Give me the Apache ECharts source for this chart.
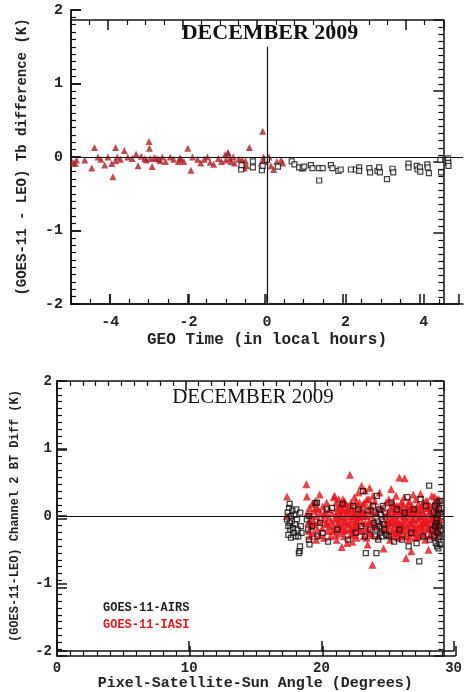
<!DOCTYPE html>
<html>
<head>
<meta charset="utf-8">
<script src="https://cdn.jsdelivr.net/npm/echarts@6/dist/echarts.min.js"></script>
<style>
  html, body { margin: 0; padding: 0; background: #fff; }
  #chart { width: 465px; height: 692px; }
</style>
</head>
<body>
<div id="chart"></div>
<script>
// top panel: GEO local time vs Tb difference
const topIasi = [
  [-4.95,-0.07],[-4.89,-0.09],[-4.86,-0.04],[-4.65,-0.04],[-4.47,-0.15],[-4.40,0.13],[-4.31,0.0],[-4.24,-0.03],
  [-4.14,-0.11],[-4.06,0.0],[-3.96,-0.09],[-3.93,-0.27],[-3.86,0.13],[-3.86,-0.05],[-3.82,0.0],[-3.74,-0.03],
  [-3.64,0.09],[-3.55,0.0],[-3.44,-0.02],[-3.34,0.04],[-3.29,-0.12],[-3.21,0.01],[-3.12,-0.02],[-3.08,-0.04],
  [-3.01,0.21],[-3.0,0.12],[-2.98,-0.02],[-2.93,-0.13],[-2.88,-0.01],[-2.83,-0.02],[-2.76,-0.03],[-2.72,-0.05],
  [-2.67,0.0],[-2.59,-0.06],[-2.47,0.0],[-2.38,-0.03],[-2.26,-0.06],[-2.22,-0.01],[-2.19,-0.03],[-2.12,-0.06],
  [-2.02,0.12],[-1.94,-0.18],[-1.90,0.0],[-1.77,-0.03],[-1.69,-0.08],[-1.60,-0.03],[-1.52,0.0],[-1.45,-0.07],
  [-1.36,-0.10],[-1.24,-0.02],[-1.16,-0.06],[-1.07,0.03],[-1.05,-0.04],[-1.00,0.06],[-0.99,0.05],[-0.95,-0.02],
  [-0.92,-0.06],[-0.86,0.0],[-0.83,-0.08],[-0.72,-0.03],[-0.64,-0.03],[-0.62,-0.08],[-0.58,-0.15],[-0.55,-0.05],
  [-0.52,-0.12],[-0.45,0.13],[-0.15,-0.08],[-0.11,0.35],[-0.09,0.0],[-0.07,-0.03],[-0.04,-0.06],[0.05,0.0],
  [0.10,-0.12],[0.17,-0.17],[0.25,-0.06],[0.36,-0.04],[0.40,-0.08],[0.90,-0.15]
];
const topAirs = [
  [-0.66,-0.17],[-0.65,-0.11],[-0.36,-0.06],[-0.36,-0.14],[-0.13,-0.18],[-0.11,-0.12],[0.0,-0.04],[0.28,-0.13],
  [0.63,-0.06],[0.70,-0.10],[0.82,-0.14],[0.91,-0.15],[0.95,-0.13],[1.12,-0.11],[1.16,-0.15],[1.33,-0.15],
  [1.33,-0.32],[1.42,-0.15],[1.63,-0.11],[1.67,-0.15],[1.82,-0.19],[1.88,-0.17],[2.14,-0.17],[2.27,-0.17],
  [2.35,-0.14],[2.35,-0.19],[2.61,-0.15],[2.63,-0.21],[2.82,-0.19],[2.86,-0.14],[2.88,-0.21],[3.06,-0.30],
  [3.20,-0.16],[3.22,-0.21],[3.61,-0.09],[3.61,-0.14],[3.82,-0.12],[3.84,-0.17],[3.90,-0.14],[3.91,-0.20],
  [4.09,-0.10],[4.10,-0.14],[4.13,-0.22],[4.42,-0.04],[4.44,-0.21],[4.62,-0.02],[4.62,-0.08],[4.63,-0.12]
];

// bottom panel: pixel-satellite-sun angle vs channel 2 BT diff
const botIasi = [
  [17.4,0.29],[17.4,0.0],
  [18.87,0.47],[18.9,0.29],[18.95,0.05],[19.0,-0.1],[19.05,-0.22],[19.1,0.12],[19.12,-0.08],[19.15,-0.3],[19.2,0.02],
  [19.25,-0.15],[19.3,0.18],[19.35,-0.05],[19.4,-0.25],[19.45,0.08],[19.5,-0.12],[19.55,0.22],[19.6,-0.35],[19.62,0.12],
  [19.65,0.0],[19.7,-0.2],[19.75,0.1],[19.8,-0.08],[19.87,0.32],[19.9,-0.28],[19.95,0.04],
  [20.05,-0.18],[20.1,0.14],[20.15,-0.05],[20.2,-0.32],[20.22,0.02],[20.3,0.06],[20.35,-0.12],[20.4,0.2],[20.42,-0.1],
  [20.5,-0.22],[20.55,-0.02],[20.6,0.1],[20.62,-0.15],[20.7,-0.3],[20.75,-0.08],[20.8,0.05],[20.82,-0.22],[20.9,-0.15],[20.95,0.28],
  [21.0,0.3],[21.02,-0.05],[21.05,-0.2],[21.1,0.02],[21.12,0.2],[21.15,-0.35],[21.2,0.12],[21.25,-0.1],[21.3,0.25],[21.32,-0.12],
  [21.35,-0.25],[21.4,0.05],[21.42,0.15],[21.45,-0.05],[21.5,0.18],[21.52,0.0],[21.54,-0.46],[21.6,-0.15],[21.62,0.25],[21.65,0.08],
  [21.7,-0.3],[21.72,-0.08],[21.75,0.22],[21.8,-0.02],[21.85,-0.2],[21.9,0.1],[21.92,0.05],[21.95,-0.4],
  [21.08,-0.28],[21.22,-0.02],[21.38,-0.18],[21.58,0.1],[21.68,-0.22],[21.82,0.18],[21.88,-0.1],[21.28,0.08],
  [22.0,0.15],[22.05,-0.12],[22.1,0.0],[22.12,-0.2],[22.16,0.61],[22.2,-0.28],[22.25,0.2],[22.3,-0.05],[22.32,0.12],[22.35,-0.38],
  [22.4,0.08],[22.42,-0.25],[22.45,-0.18],[22.5,0.28],[22.52,-0.15],[22.55,-0.08],[22.6,0.02],[22.62,0.22],[22.65,-0.32],[22.7,0.14],
  [22.72,-0.05],[22.75,-0.15],[22.8,0.35],[22.85,-0.02],[22.9,-0.22],[22.92,0.02],[22.95,0.1],
  [22.08,0.08],[22.18,-0.1],[22.28,-0.2],[22.38,0.0],[22.48,0.05],[22.58,-0.28],[22.68,-0.12],[22.78,0.05],[22.88,0.2],
  [23.04,0.45],[23.1,-0.1],[23.12,0.08],[23.15,0.18],[23.2,-0.3],[23.25,0.05],[23.3,0.38],[23.32,-0.1],[23.35,-0.18],[23.4,0.0],
  [23.45,0.25],[23.5,-0.42],[23.52,-0.2],[23.55,0.1],[23.6,-0.08],[23.65,0.42],[23.7,-0.25],[23.72,0.02],[23.75,0.15],[23.86,-0.72],
  [23.9,0.3],[23.92,-0.15],[23.95,-0.05],
  [23.08,-0.22],[23.18,0.0],[23.28,0.2],[23.42,-0.32],[23.58,0.25],[23.68,-0.1],[23.82,0.08],[23.85,-0.28],
  [24.05,0.22],[24.1,-0.15],[24.2,0.05],[24.3,-0.3],[24.32,0.1],[24.4,0.35],[24.5,-0.1],[24.6,0.12],[24.62,-0.2],[24.7,-0.48],
  [24.8,0.0],[24.82,-0.2],[24.9,0.2],[24.92,-0.1],
  [25.0,-0.2],[25.02,-0.05],[25.05,0.05],[25.1,0.25],[25.12,-0.15],[25.15,-0.1],[25.2,-0.35],[25.22,0.12],[25.28,0.4],[25.3,0.1],
  [25.32,-0.08],[25.35,-0.22],[25.4,-0.02],[25.42,-0.2],[25.45,0.18],[25.5,-0.3],[25.52,0.0],[25.55,0.08],[25.6,-0.12],[25.62,0.05],
  [25.65,0.3],[25.7,-0.05],[25.72,-0.18],[25.75,-0.25],[25.8,0.15],[25.82,-0.08],[25.85,-0.15],[25.9,0.57],[25.92,-0.22],[25.95,0.02],
  [25.08,-0.28],[25.18,0.02],[25.38,0.2],[25.48,-0.1],[25.58,-0.25],[25.68,0.15],[25.78,-0.32],[25.88,0.08],[25.98,-0.12],
  [26.0,-0.3],[26.02,0.08],[26.05,0.2],[26.1,-0.08],[26.12,-0.15],[26.15,0.1],[26.2,-0.2],[26.22,0.0],[26.25,0.28],[26.3,0.56],
  [26.32,-0.12],[26.35,-0.02],[26.4,-0.62],[26.42,-0.05],[26.45,0.12],[26.5,-0.15],[26.52,0.1],[26.55,0.05],[26.6,-0.35],[26.62,-0.2],
  [26.65,0.22],[26.7,-0.1],[26.72,0.05],[26.75,0.0],[26.8,-0.52],[26.82,-0.1],[26.85,0.15],[26.9,-0.25],[26.92,-0.05],[26.95,0.32],
  [26.08,-0.22],[26.18,0.18],[26.28,-0.3],[26.38,0.05],[26.48,-0.25],[26.58,0.18],[26.68,-0.3],[26.78,0.1],[26.88,-0.15],[26.98,0.05],
  [27.0,-0.05],[27.02,-0.18],[27.05,0.1],[27.1,-0.2],[27.12,0.02],[27.15,0.25],[27.2,-0.12],[27.22,-0.25],[27.25,0.05],[27.3,-0.3],
  [27.32,-0.05],[27.35,0.18],[27.4,-0.02],[27.42,0.1],[27.5,0.33],[27.52,-0.12],[27.55,-0.15],[27.6,0.08],[27.62,-0.2],[27.65,-0.25],
  [27.7,0.2],[27.72,0.05],[27.75,-0.08],[27.8,0.0],[27.82,-0.15],[27.85,-0.35],[27.9,0.12],[27.92,-0.05],[27.95,-0.1],
  [27.08,-0.32],[27.18,0.12],[27.28,-0.18],[27.38,-0.3],[27.48,0.0],[27.58,0.15],[27.68,-0.1],[27.78,-0.28],[27.88,0.22],
  [28.0,0.22],[28.02,-0.1],[28.05,-0.18],[28.1,-0.5],[28.12,-0.2],[28.15,0.05],[28.2,-0.05],[28.22,0.08],[28.25,0.15],[28.3,-0.28],
  [28.32,-0.05],[28.35,0.3],[28.4,-0.12],[28.42,-0.15],[28.45,0.02],[28.52,0.0],[28.55,0.29],[28.6,-0.2],[28.62,-0.1],[28.65,0.1],
  [28.7,-0.08],[28.72,0.12],[28.75,0.25],[28.8,-0.15],[28.82,-0.05],[28.85,0.18],[28.9,-0.02],[28.92,-0.12],[28.95,0.08],[28.95,-0.25],
  [28.08,0.12],[28.18,-0.3],[28.28,0.02],[28.38,-0.22],[28.48,0.18],[28.58,-0.3],[28.68,0.0],[28.78,-0.22],[28.88,0.25],[28.98,-0.05]
];
const botAirs = [
  [17.4,-0.05],[17.45,0.05],[17.5,-0.15],[17.5,-0.28],[17.55,0.12],[17.6,0.18],[17.6,-0.1],[17.65,-0.2],[17.7,0.0],[17.7,-0.32],
  [17.75,-0.08],[17.8,0.08],[17.85,-0.18],[17.9,-0.25],[17.95,0.02],[18.0,-0.12],[18.05,-0.3],[18.1,0.1],[18.15,-0.05],[18.2,-0.2],
  [18.25,-0.3],[18.3,-0.55],[18.35,-0.52],[18.38,-0.45],[18.4,0.05],[18.45,-0.15],[18.5,-0.25],
  [18.9,-0.05],[19.0,-0.2],[19.05,-0.35],[19.05,0.0],[19.1,-0.42],[19.3,-0.15],[19.55,0.19],[19.67,0.2],[19.7,-0.3],
  [19.9,-0.1],[20.1,-0.25],[20.4,0.1],[20.5,-0.38],[20.8,0.12],[21.2,-0.2],[21.6,0.18],[22.0,-0.35],
  [22.4,0.15],[22.6,-0.25],[22.8,0.1],[23.0,-0.15],[23.16,0.37],[23.3,-0.3],[23.36,-0.55],[23.5,0.08],[23.7,-0.2],[23.9,0.15],
  [24.0,-0.1],[24.05,-0.3],[24.1,0.05],[24.16,-0.55],[24.2,0.3],[24.2,-0.2],[24.25,-0.08],[24.3,-0.35],[24.35,0.1],[24.4,-0.15],
  [24.45,-0.25],[24.5,0.02],[24.55,-0.05],[24.6,-0.3],[24.65,0.15],[24.7,-0.12],[24.75,-0.2],[24.8,0.05],[24.9,-0.28],
  [25.1,-0.3],[25.3,0.2],[25.5,-0.38],[25.7,0.1],[25.9,-0.2],[26.1,-0.35],[26.3,0.05],[26.5,0.28],[26.6,-0.45],[26.8,-0.25],
  [27.0,0.1],[27.2,-0.4],[27.4,-0.67],[27.5,0.25],[27.7,-0.3],[27.9,0.15],[28.15,0.45],[28.2,-0.35],
  [28.4,-0.2],[28.5,0.05],[28.55,-0.3],[28.6,0.15],[28.6,-0.15],[28.65,-0.4],[28.7,-0.1],[28.7,-0.05],[28.75,0.2],[28.75,-0.45],
  [28.8,-0.25],[28.8,0.02],[28.85,-0.35],[28.85,-0.48],[28.9,-0.15],[28.9,0.1],[28.95,-0.3],[28.95,-0.42],[28.95,0.22],[29.0,-0.2],[29.0,0.05]
];

const monoFont = '"Liberation Mono", "DejaVu Sans Mono", monospace';
const serifFont = '"Liberation Serif", "DejaVu Serif", serif';

function boxAxis(base) {
  // axis with inside major + minor ticks, used for all four sides of a box
  return Object.assign({
    type: 'value',
    splitLine: { show: false },
    axisLine: { show: true, onZero: false, lineStyle: { color: '#111', width: 1.5 } },
    axisTick: { show: true, inside: true, length: 10, lineStyle: { color: '#111', width: 1.5 } }
  }, base);
}

function minor(n) {
  return { show: true, splitNumber: n, length: 5, lineStyle: { color: '#111', width: 1.2 } };
}

// tick-only axes keep their labels but make them see-through
const hiddenLabel = { show: true, color: 'rgba(0,0,0,0)' };

const topRect = { left: 71, right: 2, top: 10, height: 294 };
const botRect = { left: 57, right: 7, top: 381, height: 275 };

const chart = echarts.init(document.getElementById('chart'));

const option = {
  backgroundColor: '#fff',
  animation: false,
  title: [
    { text: 'DECEMBER 2009', left: 270, top: 22, textAlign: 'center', padding: 0,
      textStyle: { fontFamily: serifFont, fontWeight: 'bold', fontSize: 22, color: '#111' } },
    { text: 'DECEMBER 2009', left: 253, top: 387, textAlign: 'center', padding: 0,
      textStyle: { fontFamily: serifFont, fontWeight: 'normal', fontSize: 21, color: '#111' } },
    { text: 'GOES-11-AIRS', left: 103, top: 602, padding: 0,
      textStyle: { fontFamily: monoFont, fontWeight: 'bold', fontSize: 12, color: '#222' } },
    { text: 'GOES-11-IASI', left: 103, top: 619, padding: 0,
      textStyle: { fontFamily: monoFont, fontWeight: 'bold', fontSize: 12, color: '#e5191c' } }
  ],
  // per panel: labelled grid, top/right tick grid, bottom/left tick grid (same rect)
  grid: [topRect, topRect, botRect, botRect, topRect, botRect],
  xAxis: [
    boxAxis({
      gridIndex: 0, position: 'bottom', min: -5, max: 5,
      axisLabel: { showMinLabel: false, showMaxLabel: false, margin: 11,
        fontFamily: monoFont, fontWeight: 'bold', fontSize: 15, color: '#222' },
      name: 'GEO Time (in local hours)', nameLocation: 'middle', nameGap: 28,
      nameTextStyle: { fontFamily: monoFont, fontWeight: 'bold', fontSize: 16, color: '#222' }
    }),
    boxAxis({ gridIndex: 1, position: 'top', min: -5, max: 5, minorTick: minor(4), axisLabel: hiddenLabel }),
    boxAxis({
      gridIndex: 2, position: 'bottom', min: 0, max: 30, interval: 10,
      axisLabel: { margin: 10, fontFamily: monoFont, fontWeight: 'bold', fontSize: 14, color: '#222' },
      name: 'Pixel-Satellite-Sun Angle (Degrees)', nameLocation: 'middle', nameGap: 22,
      nameTextStyle: { fontFamily: monoFont, fontWeight: 'bold', fontSize: 15, color: '#222' }
    }),
    boxAxis({ gridIndex: 3, position: 'top', min: 0, max: 30, interval: 10, minorTick: minor(10), axisLabel: hiddenLabel }),
    boxAxis({ gridIndex: 4, position: 'bottom', min: -5, max: 5, minorTick: minor(4), axisLabel: hiddenLabel }),
    boxAxis({ gridIndex: 5, position: 'bottom', min: 0, max: 30, interval: 10, minorTick: minor(10), axisLabel: hiddenLabel })
  ],
  yAxis: [
    boxAxis({
      gridIndex: 0, position: 'left', min: -2, max: 2, interval: 1,
      axisLabel: { margin: 8, fontFamily: monoFont, fontWeight: 'bold', fontSize: 15, color: '#222' },
      name: '(GOES-11 - LEO) Tb difference (K)', nameLocation: 'middle', nameGap: 42,
      nameTextStyle: { fontFamily: monoFont, fontWeight: 'bold', fontSize: 14, color: '#222' }
    }),
    boxAxis({ gridIndex: 1, position: 'right', min: -2, max: 2, interval: 1, minorTick: minor(10), axisLabel: hiddenLabel }),
    boxAxis({
      gridIndex: 2, position: 'left', min: -2, max: 2, interval: 1,
      axisLabel: { margin: 5, fontFamily: monoFont, fontWeight: 'bold', fontSize: 14, color: '#222' },
      name: '(GOES-11-LEO) Channel 2 BT Diff (K)', nameLocation: 'middle', nameGap: 36,
      nameTextStyle: { fontFamily: monoFont, fontWeight: 'bold', fontSize: 12, color: '#222' }
    }),
    boxAxis({ gridIndex: 3, position: 'right', min: -2, max: 2, interval: 1, minorTick: minor(10), axisLabel: hiddenLabel }),
    boxAxis({ gridIndex: 4, position: 'left', min: -2, max: 2, interval: 1, minorTick: minor(10), axisLabel: hiddenLabel }),
    boxAxis({ gridIndex: 5, position: 'left', min: -2, max: 2, interval: 1, minorTick: minor(10), axisLabel: hiddenLabel })
  ],
  series: [
    {
      name: 'IASI (time)', type: 'scatter', xAxisIndex: 0, yAxisIndex: 0,
      symbol: 'triangle', symbolSize: 7, data: topIasi,
      itemStyle: { color: '#ad2126' },
      markLine: {
        silent: true, symbol: 'none', label: { show: false },
        lineStyle: { color: '#111', width: 1.2, type: 'solid' },
        data: [
          { yAxis: 0 },
          [{ coord: [0, 1.5] }, { coord: [0, -2] }]
        ]
      }
    },
    {
      name: 'AIRS (time)', type: 'scatter', xAxisIndex: 0, yAxisIndex: 0,
      symbol: 'rect', symbolSize: 5, data: topAirs,
      itemStyle: { color: '#fff', borderColor: '#111', borderWidth: 1.2 }
    },
    {
      name: 'GOES-11-IASI', type: 'scatter', xAxisIndex: 2, yAxisIndex: 2,
      symbol: 'triangle', symbolSize: 8, data: botIasi,
      itemStyle: { color: '#e6141a' },
      markLine: {
        silent: true, symbol: 'none', label: { show: false },
        lineStyle: { color: '#111', width: 1.2, type: 'solid' },
        data: [{ yAxis: 0 }]
      }
    },
    {
      name: 'GOES-11-AIRS', type: 'scatter', xAxisIndex: 2, yAxisIndex: 2,
      symbol: 'rect', symbolSize: 5, data: botAirs,
      itemStyle: { color: 'rgba(255,255,255,0)', borderColor: '#111', borderWidth: 1.3 }
    }
  ]
};

chart.setOption(option);
</script>
</body>
</html>
